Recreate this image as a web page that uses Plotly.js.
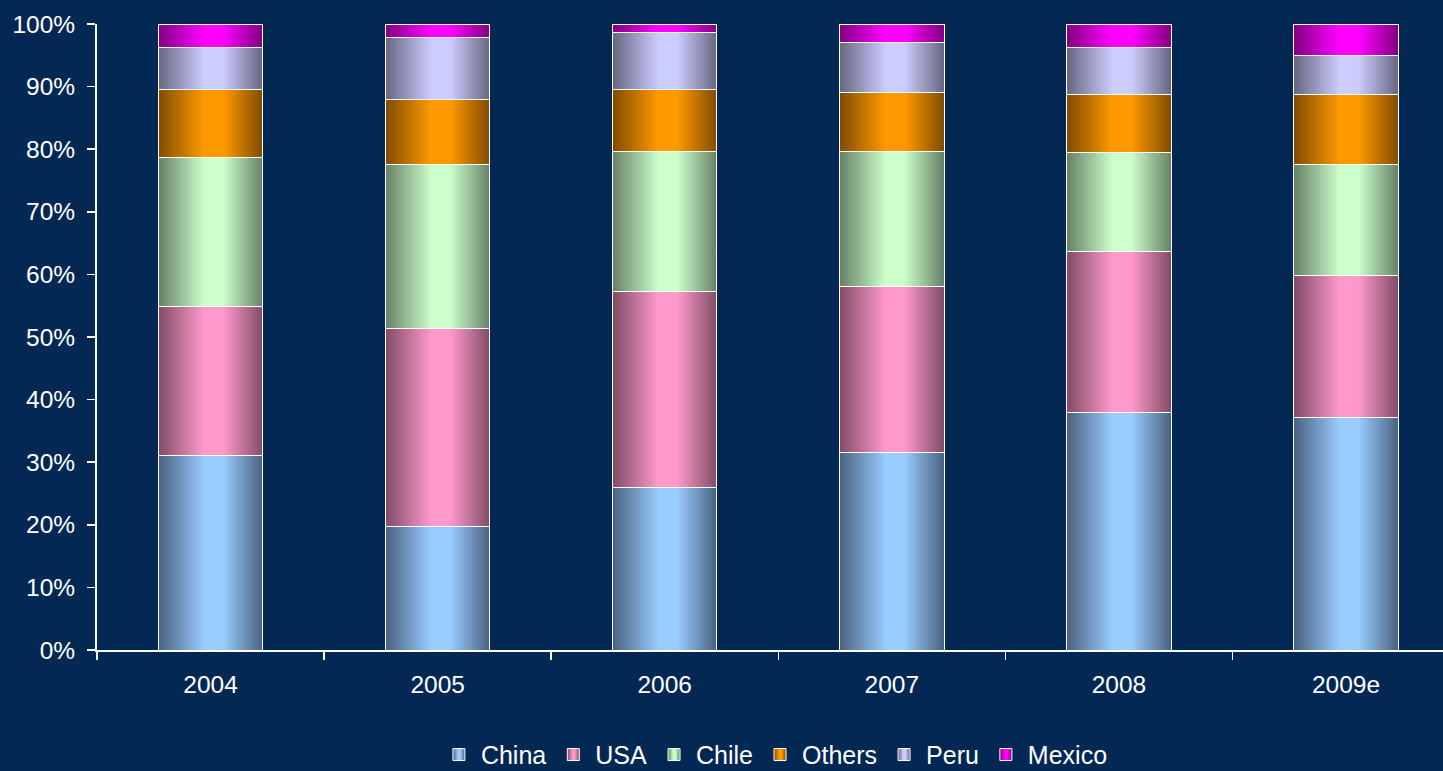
<!DOCTYPE html>
<html>
<head>
<meta charset="utf-8">
<script src="https://cdn.plot.ly/plotly-3.0.1.min.js"></script>
<style>
  html, body { margin: 0; padding: 0; background: #032853; }
  #chart { width: 1443px; height: 771px; }
</style>
</head>
<body>
<div id="chart"></div>
<script>
const years = ['2004', '2005', '2006', '2007', '2008', '2009e'];
const china  = [31.1, 19.8, 25.9, 31.5, 38.0, 37.1];
const usa    = [23.7, 31.6, 31.4, 26.5, 25.7, 22.8];
const chile  = [23.8, 26.2, 22.4, 21.7, 15.7, 17.7];
const others = [11.0, 10.4, 9.9, 9.3, 9.3, 11.1];
const peru   = [6.7, 9.8, 9.1, 8.0, 7.6, 6.3];
const mexico = [3.7, 2.2, 1.3, 3.0, 3.7, 5.0];

const seriesNames = ['China', 'USA', 'Chile', 'Others', 'Peru', 'Mexico'];
const seriesData = [china, usa, chile, others, peru, mexico];
const lightColors = ['#99ccff', '#ff99cc', '#ccffcc', '#ff9900', '#ccccff', '#ff00ff'];
const darkColors  = ['#4a6180', '#804c66', '#668066', '#804c00', '#666680', '#800080'];
const midColors   = ['#81acd9', '#d982ad', '#add9ad', '#d98200', '#adadd9', '#d900d9'];

const traces = seriesNames.map((name, i) => ({
  type: 'bar',
  name: name,
  x: years,
  y: seriesData[i],
  width: 0.46,
  marker: { color: midColors[i], line: { color: '#ffffff', width: 1 } },
  hoverinfo: 'x+y+name'
}));

const layout = {
  width: 1443,
  height: 771,
  paper_bgcolor: '#032853',
  plot_bgcolor: '#032853',
  barmode: 'stack',
  bargap: 0.54,
  margin: { l: 97, r: 0, t: 24, b: 121, pad: 0, autoexpand: false },
  font: { family: 'Liberation Sans, Arial, sans-serif', color: '#ffffff', size: 24.5 },
  showlegend: true,
  legend: {
    orientation: 'h',
    xref: 'container', yref: 'container',
    x: 0.537, xanchor: 'center',
    y: 0.021, yanchor: 'middle',
    traceorder: 'normal',
    itemwidth: 34,
    font: { size: 25, color: '#ffffff' },
    bgcolor: 'rgba(0,0,0,0)'
  },
  xaxis: {
    type: 'category',
    range: [-0.5, 5.427],
    showline: true, linecolor: '#ffffff', linewidth: 2,
    ticks: 'outside', tickson: 'boundaries', ticklen: 8, tickwidth: 1.5, tickcolor: '#ffffff',
    showgrid: false, zeroline: false,
    ticklabelstandoff: 12,
    tickfont: { size: 24.5, color: '#ffffff' }
  },
  yaxis: {
    range: [0, 100],
    tickmode: 'linear', tick0: 0, dtick: 10,
    ticksuffix: '%',
    showline: true, linecolor: '#ffffff', linewidth: 2,
    ticks: 'outside', ticklen: 8, tickwidth: 1.5, tickcolor: '#ffffff',
    showgrid: false, zeroline: false,
    ticklabelstandoff: 7,
    tickfont: { size: 24.5, color: '#ffffff' }
  }
};

Plotly.newPlot('chart', traces, layout, { displayModeBar: false, staticPlot: true }).then(gd => {
  const svg = gd.querySelector('svg.main-svg');
  if (!svg) return;
  const ns = 'http://www.w3.org/2000/svg';
  let defs = svg.querySelector('defs');
  if (!defs) { defs = document.createElementNS(ns, 'defs'); svg.insertBefore(defs, svg.firstChild); }
  seriesNames.forEach((name, i) => {
    const g = document.createElementNS(ns, 'linearGradient');
    g.setAttribute('id', 'grad' + i);
    g.setAttribute('x1', '0'); g.setAttribute('y1', '0');
    g.setAttribute('x2', '1'); g.setAttribute('y2', '0');
    [[0, darkColors[i]], [0.44, lightColors[i]], [0.62, lightColors[i]], [1, darkColors[i]]].forEach(([o, c]) => {
      const s = document.createElementNS(ns, 'stop');
      s.setAttribute('offset', o);
      s.setAttribute('stop-color', c);
      g.appendChild(s);
    });
    defs.appendChild(g);
  });
  const barTraces = gd.querySelectorAll('.barlayer .trace.bars');
  barTraces.forEach((t, i) => {
    t.querySelectorAll('path').forEach(p => { p.style.fill = 'url(#grad' + i + ')'; });
  });
  const legTraces = gd.querySelectorAll('.legend .traces');
  legTraces.forEach((t, i) => {
    t.querySelectorAll('.legendpoints path').forEach(p => { p.style.fill = 'url(#grad' + i + ')'; });
  });
});
</script>
</body>
</html>
